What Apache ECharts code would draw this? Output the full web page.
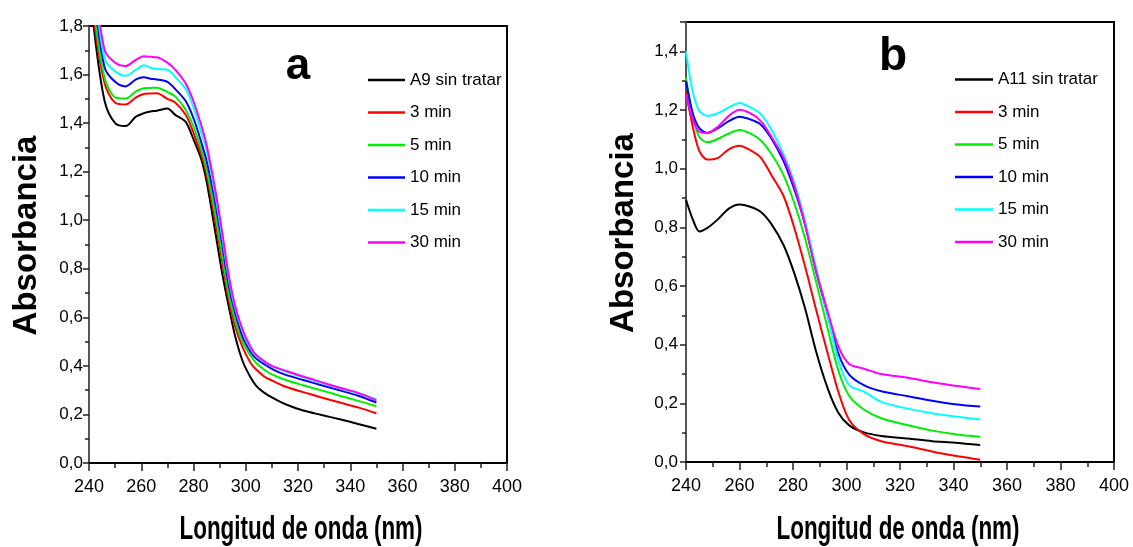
<!DOCTYPE html>
<html><head><meta charset="utf-8">
<script src="https://cdn.jsdelivr.net/npm/echarts@6/dist/echarts.min.js"></script>
<style>html,body{margin:0;padding:0;background:#fff}#c{width:1133px;height:547px}</style>
</head><body><div id="c"></div>
<script>
// ---- Data (panel a) ----
const xLeft = [240, 242, 246, 250, 254, 258, 261, 263.5, 266, 270, 273, 277, 280, 283, 285, 288, 291, 293.5, 296, 299, 302, 304, 307, 310, 315, 322, 329, 336, 343, 350];
const namesLeft = ['A9 sin tratar', '3 min', '5 min', '10 min', '15 min', '30 min'];
const a_A9 = [2.05,1.78,1.49,1.40,1.388,1.427,1.441,1.448,1.451,1.46,1.434,1.405,1.333,1.25,1.16,0.974,0.78,0.644,0.52,0.414,0.35,0.318,0.29,0.27,0.243,0.216,0.198,0.18,0.161,0.141];
const a_3 = [2.1,1.82,1.563,1.484,1.477,1.506,1.52,1.522,1.523,1.5,1.485,1.434,1.36,1.27,1.19,1.017,0.83,0.672,0.56,0.471,0.41,0.385,0.357,0.34,0.315,0.292,0.27,0.249,0.229,0.205];
const a_5 = [2.15,1.86,1.585,1.506,1.501,1.531,1.544,1.545,1.546,1.528,1.51,1.455,1.385,1.29,1.21,1.046,0.855,0.694,0.585,0.493,0.44,0.412,0.385,0.365,0.343,0.32,0.299,0.277,0.256,0.234];
const a_10 = [2.2,1.92,1.628,1.57,1.551,1.58,1.589,1.583,1.58,1.57,1.54,1.491,1.42,1.32,1.245,1.089,0.9,0.73,0.615,0.514,0.455,0.43,0.407,0.388,0.364,0.342,0.32,0.299,0.277,0.249];
const a_15 = [2.25,1.97,1.664,1.613,1.595,1.62,1.638,1.628,1.623,1.62,1.59,1.541,1.465,1.36,1.29,1.125,0.93,0.759,0.635,0.536,0.468,0.44,0.417,0.398,0.378,0.353,0.33,0.309,0.287,0.263];
const a_30 = [2.3,2.0,1.7,1.649,1.635,1.661,1.675,1.673,1.671,1.649,1.62,1.563,1.49,1.39,1.31,1.146,0.95,0.773,0.645,0.543,0.475,0.445,0.42,0.4,0.381,0.356,0.333,0.31,0.289,0.258];

// ---- Data (panel b) ----
const xRight = [240, 242.5, 245, 248, 252, 256, 260, 264, 268, 272, 276.5, 280.5, 284.5, 288.5, 293, 297, 301, 306.5, 313, 323, 332, 340.5, 350];
const namesRight = ['A11 sin tratar', '3 min', '5 min', '10 min', '15 min', '30 min'];
const b_A11 = [0.894,0.828,0.786,0.798,0.828,0.864,0.878,0.87,0.852,0.81,0.739,0.643,0.524,0.381,0.25,0.167,0.125,0.101,0.089,0.08,0.071,0.066,0.058];
const b_3 = [1.263,1.144,1.06,1.031,1.037,1.066,1.078,1.063,1.037,0.977,0.906,0.798,0.667,0.524,0.369,0.238,0.143,0.095,0.071,0.054,0.036,0.021,0.008];
const b_5 = [1.31,1.18,1.108,1.09,1.102,1.12,1.132,1.12,1.096,1.049,0.977,0.882,0.763,0.62,0.453,0.31,0.226,0.179,0.149,0.125,0.107,0.095,0.086];
const b_10 = [1.299,1.19,1.138,1.122,1.138,1.162,1.177,1.168,1.15,1.102,1.025,0.929,0.81,0.655,0.5,0.369,0.298,0.262,0.241,0.224,0.209,0.197,0.189];
const b_15 = [1.4,1.263,1.197,1.18,1.189,1.209,1.224,1.209,1.186,1.132,1.049,0.953,0.822,0.667,0.5,0.346,0.262,0.24,0.205,0.182,0.166,0.155,0.145];
const b_30 = [1.251,1.168,1.126,1.122,1.144,1.18,1.201,1.189,1.162,1.108,1.037,0.941,0.81,0.655,0.512,0.393,0.334,0.318,0.3,0.287,0.272,0.26,0.249];

const colors = ['#000000', '#ff0000', '#00ee00', '#0000ff', '#00ffff', '#ff00ff'];
const panelLabels = ['a', 'b'];
const xTitle = 'Longitud de onda (nm)';
const yTitle = 'Absorbancia';

const chart = echarts.init(document.getElementById('c'), null, {renderer: 'canvas'});
const pair = (xs, ys) => xs.map((x, i) => [x, ys[i]]);
const leftSets = [a_A9, a_3, a_5, a_10, a_15, a_30];
const rightSets = [b_A11, b_3, b_5, b_10, b_15, b_30];

const series = [];
leftSets.forEach((d, i) => series.push({
  type: 'line', name: namesLeft[i], xAxisIndex: 0, yAxisIndex: 0, data: pair(xLeft, d),
  smooth: 0.3, symbol: 'none', clip: true, lineStyle: {color: colors[i], width: 2}, itemStyle: {color: colors[i]}
}));
rightSets.forEach((d, i) => series.push({
  type: 'line', name: namesRight[i], xAxisIndex: 1, yAxisIndex: 1, data: pair(xRight, d),
  smooth: 0.3, symbol: 'none', clip: true, lineStyle: {color: colors[i], width: 2}, itemStyle: {color: colors[i]}
}));

const fmtY = v => v.toFixed(1).replace('.', ',');
function xAxisDef(idx) {
  return {
    type: 'value', gridIndex: idx, min: 240, max: 400, interval: 20,
    axisLine: {show: true, lineStyle: {color: '#000', width: 2}},
    axisTick: {show: true, inside: false, length: 8, lineStyle: {color: '#222', width: 1.5}},
    minorTick: {show: true, splitNumber: 2, length: 5, lineStyle: {color: '#222', width: 1.5}},
    axisLabel: {margin: 15, fontFamily: 'Liberation Sans, Arial', fontSize: 18, color: '#000'},
    splitLine: {show: false}
  };
}
function yAxisDef(idx, max, margin) {
  return {
    type: 'value', gridIndex: idx, min: 0, max: max, interval: 0.2,
    name: yTitle, nameLocation: 'middle', nameGap: 46, nameRotate: 90,
    nameTextStyle: {fontFamily: 'Liberation Sans, Arial', fontWeight: 'bold', fontSize: 33, color: '#000', padding: [0, 0, 0, 18]},
    axisLine: {show: true, lineStyle: {color: '#555', width: 2}},
    axisTick: {show: true, inside: false, length: 6, lineStyle: {color: '#222', width: 1.5}},
    minorTick: {show: true, splitNumber: 2, length: 4, lineStyle: {color: '#222', width: 1.5}},
    axisLabel: {margin: margin, fontFamily: 'Liberation Sans, Arial', fontSize: 17, color: '#000', formatter: fmtY, showMaxLabel: max === 1.8},
    splitLine: {show: false}
  };
}

const legendText = {fontFamily: 'Liberation Sans, Arial', fontSize: 17, color: '#000', lineHeight: 20};
const titleFont = 'bold 34px "Liberation Sans", Arial';

chart.setOption({
  backgroundColor: '#fff',
  animation: false,
  grid: [
    {left: 89, top: 26, width: 418, height: 437, show: true, borderColor: '#000', borderWidth: 2, backgroundColor: 'transparent'},
    {left: 686, top: 22, width: 428, height: 440, show: true, borderColor: '#000', borderWidth: 2, backgroundColor: 'transparent'}
  ],
  xAxis: [xAxisDef(0), xAxisDef(1)],
  yAxis: [yAxisDef(0, 1.8, 6), yAxisDef(1, 1.5, 8)],
  legend: [
    {data: namesLeft.map((n, i) => ({name: n, itemStyle: {color: colors[i]}})), orient: 'vertical', left: 363, top: 65, itemWidth: 37, itemHeight: 2.5, itemGap: 12.5, icon: 'rect', textStyle: legendText, selectedMode: false},
    {data: namesRight.map((n, i) => ({name: n, itemStyle: {color: colors[i]}})), orient: 'vertical', left: 950, top: 64.5, itemWidth: 38, itemHeight: 2.5, itemGap: 12.5, icon: 'rect', textStyle: legendText, selectedMode: false}
  ],
  graphic: [
    {type: 'text', x: 298, y: 67, style: {text: panelLabels[0], font: 'bold 44px "Liberation Sans", Arial', fill: '#000', align: 'center', verticalAlign: 'middle'}},
    {type: 'text', x: 893, y: 57, style: {text: panelLabels[1], font: 'bold 46px "Liberation Sans", Arial', fill: '#000', align: 'center', verticalAlign: 'middle'}},
    {type: 'text', x: 301, y: 530, scaleX: 0.66, style: {text: xTitle, font: titleFont, fill: '#000', align: 'center', verticalAlign: 'middle'}},
    {type: 'text', x: 898, y: 530, scaleX: 0.66, style: {text: xTitle, font: titleFont, fill: '#000', align: 'center', verticalAlign: 'middle'}}
  ],
  series: series
});
</script></body></html>
